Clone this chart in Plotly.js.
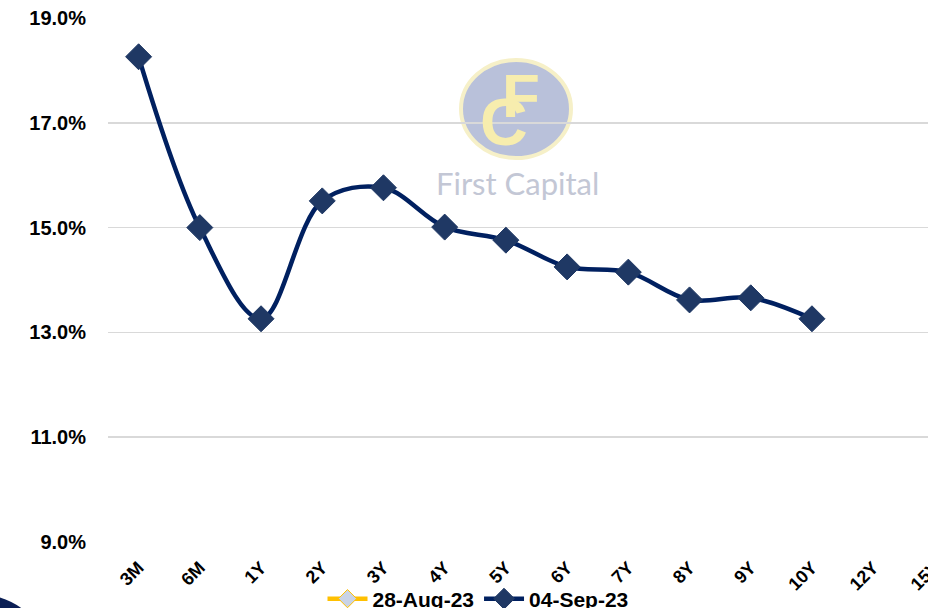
<!DOCTYPE html>
<html>
<head>
<meta charset="utf-8">
<script src="https://cdn.plot.ly/plotly-3.0.1.min.js"></script>
<style>
html,body{margin:0;padding:0;overflow:hidden;background:#fff;width:928px;height:608px;}
#chart{width:970px;height:608px;}
</style>
</head>
<body>
<div id="chart"></div>
<script>
const tenors = ["3M","6M","1Y","2Y","3Y","4Y","5Y","6Y","7Y","8Y","9Y","10Y","12Y","15Y"];
const yieldsAug28 = [null,null,null,null,null,null,null,null,null,null,null,null,null,null];
const yieldsSep04 = [18.26,15.00,13.26,15.51,15.76,15.01,14.76,14.25,14.15,13.62,13.66,13.26,null,null];
const yTicks = [9,11,13,15,17,19];
const yTickText = yTicks.map(v => v.toFixed(1) + "%");

const W = 970, H = 608, ML = 108, MR = 5, MT = 18, MB = 66;
const PW = W - ML - MR, PH = H - MT - MB;
const px = x => (x - ML) / PW;
const py = y => (H - MB - y) / PH;

const traces = [
  {
    x: tenors, y: yieldsAug28, name: "28-Aug-23", type: "scatter", mode: "lines+markers",
    line: {color: "#FFC000", width: 4.5, shape: "spline"},
    marker: {symbol: "diamond", size: 14, color: "#C9D3E6", line: {color: "#FFC000", width: 1}},
    connectgaps: false
  },
  {
    x: tenors, y: yieldsSep04, name: "04-Sep-23", type: "scatter", mode: "lines+markers",
    line: {color: "#002060", width: 4.5, shape: "spline", smoothing: 1},
    marker: {symbol: "diamond", size: 20, color: "#1F3864", line: {color: "#1F3864", width: 1}},
    connectgaps: false
  }
];

const layout = {
  width: W, height: H,
  margin: {l: ML, r: MR, t: MT, b: MB, autoexpand: false},
  paper_bgcolor: "#ffffff", plot_bgcolor: "#ffffff",
  showlegend: true,
  legend: {
    orientation: "h", xref: "container", yref: "container",
    x: 478 / W, xanchor: "center", y: (H - 599) / H, yanchor: "middle",
    font: {family: "Liberation Sans, Arial, sans-serif", size: 21, color: "#000", weight: "bold"},
    itemwidth: 40, tracegroupgap: 0, bgcolor: "rgba(0,0,0,0)"
  },
  xaxis: {
    type: "category", categoryorder: "array", categoryarray: tenors,
    range: [-0.5, 13.5], automargin: false,
    showgrid: false, zeroline: false, showline: false,
    tickangle: -45, ticks: "outside", ticklen: 7, tickcolor: "rgba(0,0,0,0)",
    tickfont: {family: "Liberation Sans, Arial, sans-serif", size: 18, color: "#000", weight: "bold"}
  },
  yaxis: {
    range: [9, 19], tickmode: "array", tickvals: yTicks, ticktext: yTickText, automargin: false,
    showgrid: true, gridcolor: "#D9D9D9", gridwidth: 1.5,
    zeroline: false, showline: false,
    ticks: "outside", ticklen: 17, tickcolor: "rgba(0,0,0,0)",
    tickfont: {family: "Liberation Sans, Arial, sans-serif", size: 20, color: "#000", weight: "bold"}
  },
  shapes: [
    {
      type: "circle", layer: "below", xref: "paper", yref: "paper",
      xsizemode: "pixel", ysizemode: "pixel", xanchor: px(516), yanchor: py(109),
      x0: -55, x1: 55, y0: -49, y1: 49,
      fillcolor: "#B6BED9", line: {color: "#F6F0C6", width: 4}, opacity: 0.95
    },
    {
      type: "path", layer: "above", xref: "paper", yref: "paper",
      path: `M ${px(-2)},${py(597)} Q ${px(12)},${py(601)} ${px(24)},${py(610)} L ${px(-2)},${py(610)} Z`,
      fillcolor: "#0B1F55", line: {width: 0}
    }
  ],
  annotations: [
    {
      xref: "paper", yref: "paper", x: px(521), y: py(96), xanchor: "center", yanchor: "middle",
      text: "F", showarrow: false,
      font: {family: "Liberation Sans, Arial, sans-serif", size: 62, color: "#F7EDAE", weight: "bold"}
    },
    {
      xref: "paper", yref: "paper", x: px(504), y: py(122), xanchor: "center", yanchor: "middle",
      text: "C", showarrow: false,
      font: {family: "Liberation Sans, Arial, sans-serif", size: 66, color: "#F7EDAE", weight: "bold"}
    },
    {
      xref: "paper", yref: "paper", x: px(517), y: py(183), xanchor: "center", yanchor: "middle",
      text: "First Capital", showarrow: false,
      font: {family: "Lato, sans-serif", size: 31, color: "#C3C7D5"}
    }
  ]
};

Plotly.newPlot("chart", traces, layout, {displayModeBar: false, staticPlot: true});
</script>
</body>
</html>
